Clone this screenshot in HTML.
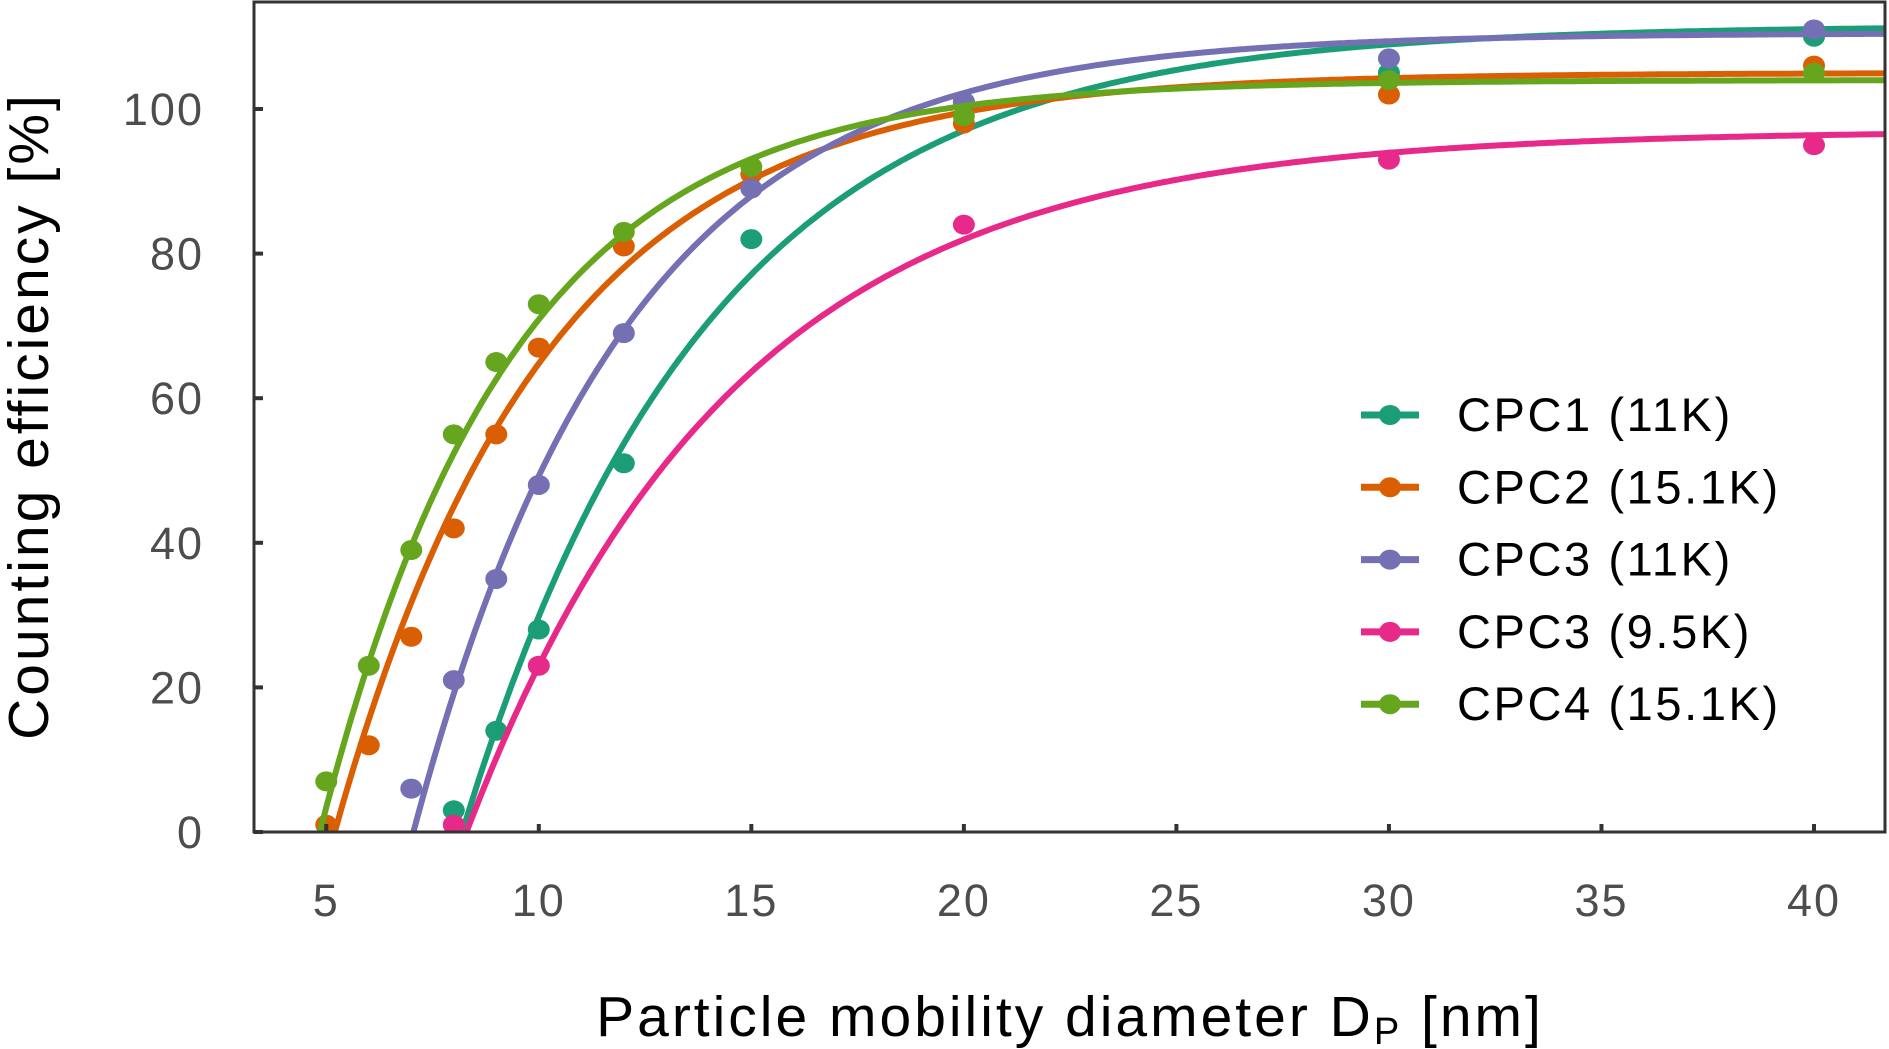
<!DOCTYPE html>
<html><head><meta charset="utf-8"><style>
html,body{margin:0;padding:0;background:#fff;}
svg{display:block;font-family:"Liberation Sans",sans-serif;}
</style></head><body>
<svg id="chart" width="1889" height="1049" viewBox="0 0 1889 1049" xmlns="http://www.w3.org/2000/svg">
<defs><clipPath id="plotclip"><rect x="254" y="2" width="1631" height="830"/></clipPath></defs>
<g id="series" clip-path="url(#plotclip)"></g>
<g id="axes"></g>
<g id="legend"></g>
<text x="1070" y="1036" text-anchor="middle" font-size="57" letter-spacing="3" fill="#000">Particle mobility diameter D<tspan font-size="38" dy="8">P</tspan><tspan dy="-8"> [nm]</tspan></text>
<text transform="translate(48,416) rotate(-90)" text-anchor="middle" font-size="57" letter-spacing="3" fill="#000">Counting efficiency [%]</text>
</svg>
<script>
const names = ["CPC1 (11K)","CPC2 (15.1K)","CPC3 (11K)","CPC3 (9.5K)","CPC4 (15.1K)"];
const colors = ["#1b9e77","#d95f02","#7570b3","#e7298a","#66a61e"];
const xCPC1 = [8,9,10,12,15,20,30,40];
const yCPC1 = [3,14,28,51,82,101,105,110];
const xCPC2 = [5,6,7,8,9,10,12,15,20,30,40];
const yCPC2 = [1,12,27,42,55,67,81,91,98,102,106];
const xCPC3a = [7,8,9,10,12,15,20,30,40];
const yCPC3a = [6,21,35,48,69,89,101,107,111];
const xCPC3b = [8,10,20,30,40];
const yCPC3b = [1,23,84,93,95];
const xCPC4 = [5,6,7,8,9,10,12,15,20,30,40];
const yCPC4 = [7,23,39,55,65,73,83,92,99,104,105];
// fit parameters: E = a*(1-exp(-(d-d0)/b))
const fitA = [111.5,105,110.5,97,104];
const fitD0 = [8.2,5.2,7.05,8.3,4.85];
const fitB = [5.78,5.0,5.0,6.28,4.5];
const xTicks = [5,10,15,20,25,30,35,40];
const yTicks = [0,20,40,60,80,100];

const NS="http://www.w3.org/2000/svg";
const X0=254,X1=1885,Y0=832,YT=2;
const xmin=3.3,xmax=41.67,ymin=0,ymax=114.8;
const sx=v=>X0+(v-xmin)/(xmax-xmin)*(X1-X0);
const sy=v=>Y0-(v-ymin)/(ymax-ymin)*(Y0-YT);
function mk(t,a,p){const e=document.createElementNS(NS,t);for(const k in a)e.setAttribute(k,a[k]);p.appendChild(e);return e;}
const xs=[xCPC1,xCPC2,xCPC3a,xCPC3b,xCPC4], ys=[yCPC1,yCPC2,yCPC3a,yCPC3b,yCPC4];
const sg=document.getElementById('series');
for(let i=0;i<5;i++){
  const g=mk('g',{},sg);
  
  
  let d='';
  for(let k=0;k<=400;k++){const xv=fitD0[i]-0.2+(xmax-fitD0[i]+0.2)*k/400;const yv=fitA[i]*(1-Math.exp(-(xv-fitD0[i])/fitB[i]));d+=(k?'L':'M')+sx(xv).toFixed(1)+','+sy(yv).toFixed(1);}
  const p=mk('path',{d:d,fill:'none',stroke:colors[i],'stroke-width':6},g);
  
  
  for(let j=0;j<xs[i].length;j++){
    const c=mk('ellipse',{cx:sx(xs[i][j]),cy:sy(ys[i][j]),rx:11,ry:10,fill:colors[i]},g);
    
    
  }
}
const ax=document.getElementById('axes');
const fr=mk('rect',{x:X0,y:YT,width:X1-X0,height:Y0-YT,fill:'none',stroke:'#333','stroke-width':3},ax);


xTicks.forEach(t=>{
  const l=mk('line',{x1:sx(t),x2:sx(t),y1:Y0,y2:Y0-8,stroke:'#333','stroke-width':4},ax);
  
  
  const tx=mk('text',{x:sx(t),y:916,'text-anchor':'middle','font-size':45,'letter-spacing':2,fill:'#4d4d4d'},ax);
  tx.textContent=t;
  
  
});
yTicks.forEach(t=>{
  const l=mk('line',{x1:X0,x2:X0+9,y1:sy(t),y2:sy(t),stroke:'#333','stroke-width':4},ax);
  
  
  const tx=mk('text',{x:204,y:sy(t)+16,'text-anchor':'end','font-size':45,'letter-spacing':2,fill:'#4d4d4d'},ax);
  tx.textContent=t;
  
  
});
const lg=document.getElementById('legend');
for(let i=0;i<5;i++){
  const yy=415+i*72.3;
  const g=mk('g',{},lg);
  
  
  mk('line',{x1:1361,x2:1419,y1:yy,y2:yy,stroke:colors[i],'stroke-width':7},g);
  mk('ellipse',{cx:1390,cy:yy,rx:11,ry:10,fill:colors[i]},g);
  const t=mk('text',{x:1457,y:yy+16,'font-size':47,'letter-spacing':2.6,fill:'#000'},g);
  t.textContent=names[i];
}
</script>
</body></html>
